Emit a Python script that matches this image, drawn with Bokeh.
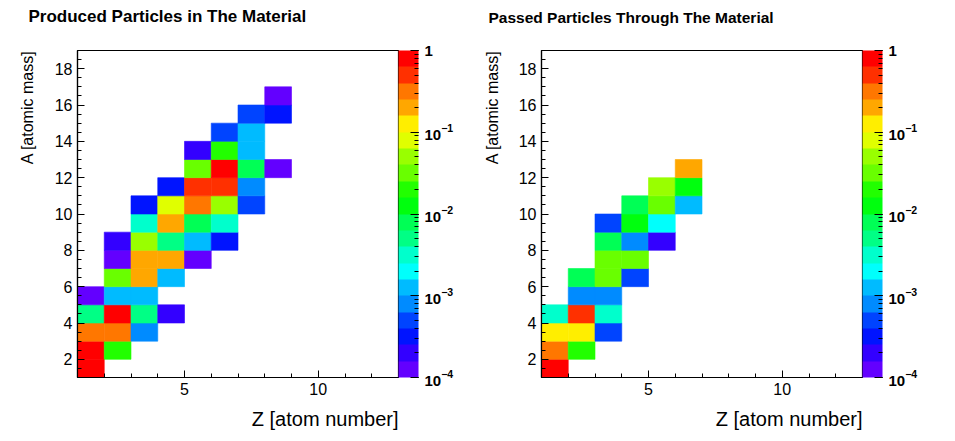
from bokeh.plotting import figure
from bokeh.models import (ColumnDataSource, LogColorMapper, ColorBar, LogTicker,
                          FixedTicker, Title, LogTickFormatter)
from bokeh.transform import transform
from bokeh.layouts import row
from bokeh.embed import file_html
from bokeh.resources import INLINE

FONT = "Liberation Sans"

# ---- data ----
prod_title = "Produced Particles in The Material"
pass_title = "Passed Particles Through The Material"
x_label = "Z [atom number]"
y_label = "A [atomic mass]"

prod_z = [1, 1, 1, 1, 1,
          2, 2, 2, 2, 2, 2, 2,
          3, 3, 3, 3, 3, 3, 3, 3,
          4, 4, 4, 4, 4, 4, 4,
          5, 5, 5, 5, 5, 5, 5,
          6, 6, 6, 6, 6, 6, 6,
          7, 7, 7, 7, 7, 7,
          8, 8, 8]
prod_a = [1, 2, 3, 4, 5,
          2, 3, 4, 5, 6, 7, 8,
          3, 4, 5, 6, 7, 8, 9, 10,
          4, 6, 7, 8, 9, 10, 11,
          7, 8, 9, 10, 11, 12, 13,
          8, 9, 10, 11, 12, 13, 14,
          10, 11, 12, 13, 14, 15,
          12, 15, 16]
prod_f = [0.9, 0.7, 0.3, 0.005, 0.00013,
          0.02, 0.3, 0.75, 0.0012, 0.032, 0.00013, 0.0002,
          0.0008, 0.005, 0.0013, 0.2, 0.19, 0.05, 0.0032, 0.0003,
          0.0002, 0.0013, 0.2, 0.005, 0.2, 0.08, 0.0003,
          0.00013, 0.0012, 0.008, 0.32, 0.5, 0.032, 0.0002,
          0.0003, 0.0032, 0.05, 0.5, 0.8, 0.02, 0.0005,
          0.0005, 0.0008, 0.008, 0.0013, 0.0013, 0.0005,
          0.00013, 0.0003, 0.00013]

pass_z = [1, 1, 1, 1,
          2, 2, 2, 2, 2,
          3, 3, 3, 3, 3, 3, 3,
          4, 4, 4, 4, 4,
          5, 5, 5, 5,
          6, 6, 6]
pass_a = [1, 2, 3, 4,
          2, 3, 4, 5, 6,
          3, 4, 5, 6, 7, 8, 9,
          6, 7, 8, 9, 10,
          8, 9, 10, 11,
          10, 11, 12]
pass_f = [0.85, 0.3, 0.12, 0.003,
          0.02, 0.13, 0.5, 0.0008, 0.008,
          0.0005, 0.003, 0.0008, 0.03, 0.03, 0.008, 0.0005,
          0.0005, 0.03, 0.0008, 0.012, 0.008,
          0.0002, 0.002, 0.03, 0.05,
          0.0012, 0.012, 0.2]

x_ticks = [5, 10]
x_minor = [1, 2, 3, 4, 5, 6, 7, 8, 9, 10, 11, 12, 13]
y_ticks = [2, 4, 6, 8, 10, 12, 14, 16, 18]
y_minor = [1, 1.5, 2, 2.5, 3, 3.5, 4, 4.5, 5, 5.5, 6, 6.5, 7, 7.5, 8, 8.5, 9, 9.5,
           10, 10.5, 11, 11.5, 12, 12.5, 13, 13.5, 14, 14.5, 15, 15.5, 16, 16.5,
           17, 17.5, 18, 18.5, 19]
x_lim = (1, 13)
y_lim = (1, 19)

# ROOT "pretty" palette, 20 contour levels (violet -> red)
palette = ["#6300FF", "#3300FF", "#0014FF", "#0044FF", "#008BFF",
           "#00BBFF", "#00FFFC", "#00FFCC", "#00FF85", "#00FF55",
           "#00FF0E", "#22FF00", "#69FF00", "#99FF00", "#E0FF00",
           "#FFEE00", "#FFA700", "#FF7700", "#FF3000", "#FF0000"]


def make_panel(title, z, a, f, title_size, title_dx, border_left, border_right,
               ylabel_standoff):
    mapper = LogColorMapper(palette=palette, low=1e-4, high=1.0)
    p = figure(frame_width=321, frame_height=327, x_range=x_lim, y_range=y_lim,
               output_backend="svg", toolbar_location=None, title=None,
               min_border_left=border_left, min_border_right=border_right,
               min_border_top=50, min_border_bottom=60,
               background_fill_color="white", border_fill_color="white",
               outline_line_color="black", outline_line_width=1.2)
    p.grid.visible = False

    # spacer panel between frame and title, then the title itself
    p.add_layout(Title(text=" ", text_font_size="1px", standoff=22), "above")
    p.add_layout(Title(text=title, align="left", offset=title_dx, standoff=0,
                       text_font=FONT, text_font_style="bold",
                       text_font_size=title_size, text_color="black"), "above")

    src = ColumnDataSource(dict(
        left=list(z), right=[v + 1 for v in z],
        bottom=list(a), top=[v + 1 for v in a], f=list(f)))
    p.quad(left="left", right="right", bottom="bottom", top="top", source=src,
           fill_color=transform("f", mapper), line_color=transform("f", mapper),
           line_width=0.6)

    p.xaxis.ticker = FixedTicker(ticks=x_ticks, minor_ticks=x_minor)
    p.yaxis.ticker = FixedTicker(ticks=y_ticks, minor_ticks=y_minor)
    for ax in (p.xaxis[0], p.yaxis[0]):
        ax.major_tick_in = 7
        ax.major_tick_out = 0
        ax.minor_tick_in = 4
        ax.minor_tick_out = 0
        ax.axis_line_color = "black"
        ax.axis_line_width = 1.2
        ax.major_tick_line_color = "black"
        ax.minor_tick_line_color = "black"
        ax.major_label_text_font = FONT
        ax.major_label_text_font_size = "16px"
        ax.major_label_text_color = "black"
        ax.major_label_standoff = 5

    cb = ColorBar(color_mapper=mapper, ticker=LogTicker(num_minor_ticks=10),
                  formatter=LogTickFormatter(), major_label_overrides={1: "1"},
                  width=20, padding=0, margin=2, label_standoff=6,
                  major_label_text_font=FONT, major_label_text_font_size="15px",
                  major_label_text_font_style="bold", major_label_text_color="black",
                  major_tick_in=8, major_tick_out=0, minor_tick_in=4, minor_tick_out=0,
                  major_tick_line_color="black", minor_tick_line_color="black",
                  bar_line_color=None, border_line_color=None,
                  background_fill_alpha=0)
    p.add_layout(cb, "right")

    p.add_layout(Title(text=x_label, align="right", standoff=17, text_font=FONT,
                       text_font_size="20px", text_font_style="normal",
                       text_color="black"), "below")
    p.add_layout(Title(text=y_label, align="right", standoff=ylabel_standoff,
                       text_font=FONT, text_font_size="16px",
                       text_font_style="normal", text_color="black"), "left")
    return p


p1 = make_panel(prod_title, prod_z, prod_a, prod_f, "17px", -49, 77, 69, 31)
p2 = make_panel(pass_title, pass_z, pass_a, pass_f, "15.5px", -53, 74, 80, 29)

layout = row(p1, p2)
open("out.html", "w").write(file_html(layout, INLINE))
